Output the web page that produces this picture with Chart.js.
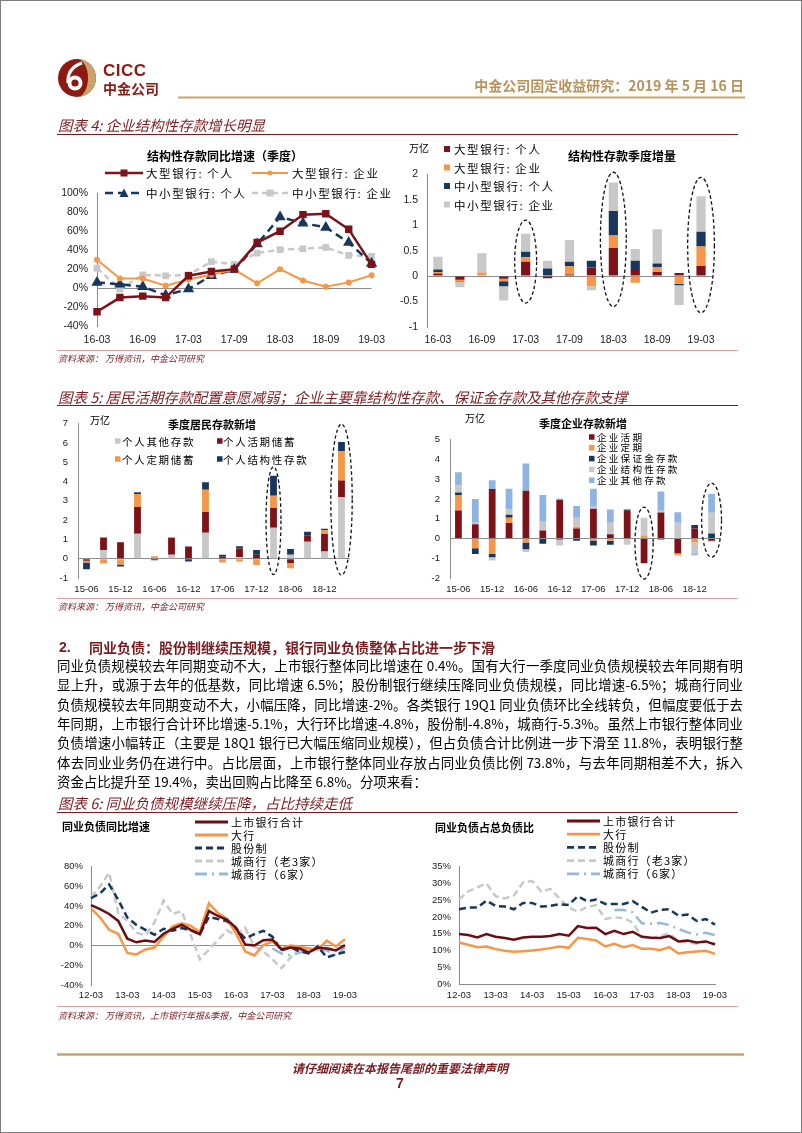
<!DOCTYPE html>
<html><head><meta charset="utf-8">
<script src="https://cdn.jsdelivr.net/npm/chart.js@4.4.0/dist/chart.umd.min.js"></script>
<style>
html,body{margin:0;padding:0;background:#fff;}
#page{position:relative;width:802px;height:1133px;overflow:hidden;font-family:"Noto Sans CJK SC","Liberation Sans",sans-serif;background:#fff;}
.t{position:absolute;white-space:nowrap;}
.pl{position:absolute;left:57px;width:686px;font-size:13.4px;line-height:18px;text-align:justify;text-align-last:justify;white-space:nowrap;color:#000;}
canvas{position:absolute;}
#deco{position:absolute;left:0;top:0;pointer-events:none;}
#frame{position:absolute;left:0;top:0;width:802px;height:1133px;box-sizing:border-box;border:1px solid #7f7f7f;pointer-events:none;}
</style></head>
<body>
<div id="page">
<svg id="deco" width="802" height="1133"></svg>
<div id="frame"></div>
</div>
<script>
// ---------------- DATA ----------------
// Figure 4 left: YoY growth of structured deposits (quarterly, %)
const c4Quarters = ['16-03','16-06','16-09','16-12','17-03','17-06','17-09','17-12','18-03','18-06','18-09','18-12','19-03'];
const c4TickLabels = ['16-03','16-09','17-03','17-09','18-03','18-09','19-03'];
const yoyLargePersonal = [-25,-10,-8.5,-10,13,17.5,20,48,60,77.5,78.5,62,25];
const yoyLargeCorp     = [30,10,10,2.5,9,14,19.5,5,20,8,1.5,6,13.5];
const yoySmallPersonal = [6,4,1.5,-7.5,-1,13,19.5,46.5,75,68.5,64,48,26];
const yoySmallCorp     = [21,-1,14,13,14,28,25,37,40.5,41.5,43,34.5,33.5];
// Figure 4 right: quarterly increment of structured deposits (trillion)
const incLargePersonal = [0.05,-0.07,0,-0.05,0.28,-0.04,0.03,0.17,0.55,0.12,0.08,0.06,0.2];
const incLargeCorp     = [0.03,-0.03,0.07,-0.05,0.09,0,0.17,-0.2,0.25,-0.13,0.1,-0.15,0.38];
const incSmallPersonal = [0.05,-0.01,0,-0.1,0.11,0.15,0.08,0.13,0.48,0.18,0.07,-0.03,0.29];
const incSmallCorp     = [0.25,-0.11,0.38,-0.28,0.35,0.15,0.43,-0.08,0.56,0.23,0.67,-0.39,0.7];
const incHighlights    = [[4,1.1,-0.53],[8,2.04,-0.6],[12,1.94,-0.72]];
// Figure 5: quarterly new deposits (trillion)
const c5Quarters = ['15-06','15-09','15-12','16-03','16-06','16-09','16-12','17-03','17-06','17-09','17-12','18-03','18-06','18-09','18-12','19-03'];
const c5TickLabels = ['15-06','15-12','16-06','16-12','17-06','17-12','18-06','18-12'];
const hhOther  = [0,0.45,0,1.3,0.03,0.2,0,1.35,0.03,0.08,0.03,1.6,0.2,0.88,0.38,3.2];
const hhDemand = [-0.1,0.65,0.85,1.38,-0.03,0.88,0.63,1.07,0.07,0.45,0.18,1.03,-0.22,0.34,0.9,0.85];
const hhTime   = [-0.1,-0.25,-0.3,0.67,0.1,0.04,0,1.15,-0.2,-0.15,-0.32,0.64,-0.28,0,0.2,1.52];
const hhStruct = [-0.35,0,-0.1,0.1,-0.05,0,-0.15,0.4,0.1,0.12,0.24,1.03,0.3,0.18,0.07,0.48];
const hhHighlights = [[11,4.77,-0.82],[15,6.98,-0.85]];
const coDemand = [1.42,0.72,2.5,0.78,2.42,0.4,1.95,0.5,1.5,0.22,1.4,-1.25,1.32,-0.75,0.5,-0.12];
const coTime   = [0.78,-0.5,-0.78,0.27,-0.2,0,0,0.1,-0.1,-0.12,0,0.15,0,-0.1,-0.2,-0.03];
const coMargin = [0.13,-0.28,-0.17,0.15,-0.35,-0.27,-0.05,-0.12,-0.25,-0.2,0.07,0,-0.05,0,0.18,0.25];
const coStruct = [0.37,0.08,-0.17,0.28,-0.13,0.45,-0.3,0.45,0.1,0.58,-0.32,0.9,0.08,0.8,-0.55,1.05];
const coOther  = [0.65,1.2,0.45,1.04,1.38,1.35,0.07,0.6,0.92,0.67,0,0,0.98,0.53,-0.1,0.95];
const coHighlights = [[11,1.59,-2.05],[15,2.8,-0.95]];
// Figure 6: interbank liabilities
const c6Quarters = ['12-03','12-06','12-09','12-12','13-03','13-06','13-09','13-12','14-03','14-06','14-09','14-12','15-03','15-06','15-09','15-12','16-03','16-06','16-09','16-12','17-03','17-06','17-09','17-12','18-03','18-06','18-09','18-12','19-03'];
const c6TickLabels = ['12-03','13-03','14-03','15-03','16-03','17-03','18-03','19-03'];
const gListed = [41,37,32,25,7,3.3,5,3.6,12,17,21,16,11.5,35,30,26,18,1,0,5.5,6,-4,-2,-3,-7,-2,-3,-5,0.4];
const gBig    = [37.7,28.5,16,12,-7.5,-9,-4,-2,9,19.6,22.6,20,13.8,43,33,27,12,-6,-10,0.5,4,-3,0,-1,-3,-4,5,-1,6.5];
const gJoint  = [48,53,62,46.5,28.5,21,16,11,17,15,17.7,15.4,11.5,29,27,24.6,17,7,11.5,15,9,-5,-1.6,-6,-8,-1,-12,-9,-6.5];
const gCity3  = [49,60,74,33,25,13,10.5,23.6,45.6,32,35,10.5,-14,-4,5.6,15.4,10.5,18,-1,-6,-14,-23,-12,-3,-3,0,-2,-4,0];
const gCity6  = [null,null,null,null,null,null,null,null,null,null,null,null,null,null,null,null,null,null,null,null,-3,-8,-10,-7,-5,-3,-5,-10,-2];
const sListed = [14.9,14.6,13.9,14.9,14.1,13.7,13.2,13.9,14.1,14.1,14.3,14.9,14.4,17.3,16.7,16.8,14.9,15.9,14.9,15.6,14.1,13.8,13.7,14.3,12.7,13,12.4,12.7,11.8];
const sBig    = [12.4,11.7,11,11.2,10.4,9.9,9.6,9.8,10,10.3,10.7,11.2,10.8,13.8,13.4,13,11.2,12,11,11.6,10.5,10.5,10.1,11,9.1,9.5,9.7,9.9,9.0];
const sJoint  = [22.3,22.8,22.8,24.9,23.3,23.1,22.3,24.2,24.2,23.1,23.3,23.8,23.6,26.2,24.7,25.2,23.9,23.9,23.9,24.7,23,21.3,22.1,22.3,20.4,20.7,18.8,19.4,17.7];
const sCity3  = [25.2,27.6,28.8,30,26.2,25.5,26.4,30.3,30.7,27.6,28.4,25.5,22.8,21.6,23,23.5,19.4,19.9,19.7,18.3,14.1,13.8,14.3,15.1,12.7,12.4,12,12.7,12];
const sCity6  = [null,null,null,null,null,null,null,null,null,null,null,null,null,null,null,null,null,22.1,22.1,21.4,18.1,18,18.2,17.6,16.4,15.4,14.8,15.3,14.6];

// ---------------- STYLE ----------------
const RED='#7d1218', ORANGE='#f79646', NAVY='#17375e', GRAY='#c8c8c8', LBLUE='#8db4e2', LINEBLUE='#95b8dc';
const CAP='#7a1b1f', GOLD='#c9a46a';
const page=document.getElementById('page');
const svg=document.getElementById('deco');
const NS='http://www.w3.org/2000/svg';
function sv(tag,a){const e=document.createElementNS(NS,tag);for(const k in a)e.setAttribute(k,a[k]);svg.appendChild(e);return e;}
function T(txt,x,y,o={}){
  const d=document.createElement('div');d.className='t';
  const size=o.size||12, lh=Math.round(size*1.4);
  d.style.fontSize=size+'px';d.style.lineHeight=lh+'px';
  d.style.top=(y-lh/2)+'px';d.style.left=x+'px';
  if(o.align==='center')d.style.transform='translateX(-50%)';
  if(o.align==='right')d.style.transform='translateX(-100%)';
  if(o.bold)d.style.fontWeight='bold';
  if(o.italic)d.style.fontStyle='italic';
  d.style.color=o.color||'#000';
  if(o.family)d.style.fontFamily=o.family;
  if(o.ls)d.style.letterSpacing=o.ls;
  d.textContent=txt;page.appendChild(d);return d;
}
function hl(x1,x2,y,c,w){sv('line',{x1:x1,y1:y,x2:x2,y2:y,stroke:c,'stroke-width':w});}
function sample(x1,x2,y,c,w,dash,marker){
  const a={x1:x1,y1:y,x2:x2,y2:y,stroke:c,'stroke-width':w};
  if(dash)a['stroke-dasharray']=dash;
  sv('line',a);
  const m=(x1+x2)/2;
  if(marker==='rect')sv('rect',{x:m-3.5,y:y-3.5,width:7,height:7,fill:c});
  if(marker==='circle')sv('circle',{cx:m,cy:y,r:2.5,fill:c});
  if(marker==='tri')sv('polygon',{points:`${m-4.5},${y+4} ${m+4.5},${y+4} ${m},${y-4.5}`,fill:c});
}
function sq(x,y,c,s){sv('rect',{x:x,y:y-s/2,width:s,height:s,fill:c});}

// ---------------- HEADER ----------------
const g=sv('g',{transform:'translate(58,59)'});
function gs(tag,a){const e=document.createElementNS(NS,tag);for(const k in a)e.setAttribute(k,a[k]);g.appendChild(e);}
gs('circle',{cx:19,cy:19,r:19,fill:'#8c1a13'});
gs('path',{d:'M19 0 A19 19 0 0 1 19 38 A11 19 0 0 0 19 0 Z',fill:'#c9a36a'});
gs('circle',{cx:17,cy:24,r:7.5,fill:'#fff'});
gs('circle',{cx:17,cy:24,r:3.6,fill:'#8c1a13'});
gs('path',{d:'M10 24 Q 9 9 24 4',stroke:'#fff','stroke-width':3.2,fill:'none'});
T('CICC',103,71,{size:17,bold:true,color:'#8c1a13',family:'"Liberation Sans",Arial,sans-serif',ls:'0.5px'});
T('中金公司',103,88,{size:14,bold:true,color:'#8c1a13'});
T('中金公司固定收益研究：2019 年 5 月 16 日',744,85,{size:14,bold:true,color:'#b8925a',align:'right'});
hl(178,745,97.5,GOLD,2.2);

// captions & rules
T('图表 4: 企业结构性存款增长明显',58,125,{size:14.5,italic:true,color:CAP});
hl(57,738,134.5,CAP,1);
hl(57,738,350.5,'#d7a0a0',1);
T('资料来源：  万得资讯，中金公司研究',58,358,{size:9,italic:true,color:CAP});

T('图表 5: 居民活期存款配置意愿减弱；企业主要靠结构性存款、保证金存款及其他存款支撑',58,397,{size:14.5,italic:true,color:CAP});
hl(57,738,405.5,CAP,1);
hl(57,738,598.5,'#d7a0a0',1);
T('资料来源：  万得资讯，中金公司研究',58,606,{size:9,italic:true,color:CAP});

T('2.',59,647,{size:14,bold:true,color:CAP,family:'"Liberation Sans",Arial,sans-serif'});
T('同业负债：股份制继续压规模，银行同业负债整体占比进一步下滑',89,647,{size:14,bold:true,color:CAP});
const paraLines=[
'同业负债规模较去年同期变动不大，上市银行整体同比增速在 0.4%。国有大行一季度同业负债规模较去年同期有明',
'显上升，或源于去年的低基数，同比增速 6.5%；股份制银行继续压降同业负债规模，同比增速-6.5%；城商行同业',
'负债规模较去年同期变动不大，小幅压降，同比增速-2%。各类银行 19Q1 同业负债环比全线转负，但幅度要低于去',
'年同期，上市银行合计环比增速-5.1%，大行环比增速-4.8%，股份制-4.8%，城商行-5.3%。虽然上市银行整体同业',
'负债增速小幅转正（主要是 18Q1 银行已大幅压缩同业规模），但占负债合计比例进一步下滑至 11.8%，表明银行整',
'体去同业业务仍在进行中。占比层面，上市银行整体同业存放占同业负债比例 73.8%，与去年同期相差不大，拆入',
'资金占比提升至 19.4%，卖出回购占比降至 6.8%。分项来看：'];
paraLines.forEach((l,i)=>{const d=document.createElement('div');d.className='pl';d.style.top=(656+i*19.3)+'px';d.textContent=l;if(i===paraLines.length-1){d.style.textAlignLast='left';}page.appendChild(d);});

T('图表 6: 同业负债规模继续压降，占比持续走低',58,803,{size:14.5,italic:true,color:CAP});
hl(57,738,812.5,CAP,1);
hl(57,738,1006.5,'#d7a0a0',1);
T('资料来源：  万得资讯，上市银行年报&季报，中金公司研究',58,1015,{size:9,italic:true,color:CAP});

// footer
hl(57,744,1054.5,GOLD,2.5);
T('请仔细阅读在本报告尾部的重要法律声明',400,1067,{size:12,bold:true,italic:true,color:CAP,align:'center'});
T('7',400,1083,{size:14,bold:true,color:CAP,align:'center',family:'"Liberation Sans",Arial,sans-serif'});

// ---------------- CHART HELPERS ----------------
const TICKFONT='"Liberation Sans",Arial,sans-serif';
const ellipsePlugin={id:'ellipses',afterDatasetsDraw(chart,args,opts){
  const items=opts.items||[];if(!items.length)return;
  const ctx=chart.ctx,xs=chart.scales.x,ys=chart.scales.y;
  const step=xs.getPixelForValue(1)-xs.getPixelForValue(0);
  items.forEach((e,i)=>{
    const cx=xs.getPixelForValue(e[0]);const y1=ys.getPixelForValue(e[1]),y2=ys.getPixelForValue(e[2]);
    ctx.save();ctx.beginPath();ctx.setLineDash([3.5,2.5]);ctx.lineWidth=1.3;ctx.strokeStyle='#111';
    ctx.ellipse(cx,(y1+y2)/2,opts.rx[i]*step,Math.abs(y2-y1)/2,0,0,Math.PI*2);ctx.stroke();ctx.restore();
  });
}};
Chart.register(ellipsePlugin);

function makeChart(geom,type,labels,datasets,cfg){
  const c=document.createElement('canvas');
  const left=geom.pl-geom.yW, top=geom.pt-geom.padTop;
  const w=geom.pr+geom.padRight-left, h=geom.pb+geom.xH-top;
  c.width=w;c.height=h;c.style.left=left+'px';c.style.top=top+'px';c.style.width=w+'px';c.style.height=h+'px';
  page.insertBefore(c,svg);
  const tickList=cfg.ticks;
  return new Chart(c.getContext('2d'),{
    type:type,
    data:{labels:labels,datasets:datasets},
    options:{
      responsive:false,animation:false,devicePixelRatio:1,
      layout:{padding:{top:geom.padTop,right:geom.padRight,left:0,bottom:0}},
      plugins:{legend:{display:false},tooltip:{enabled:false},ellipses:{items:cfg.ell||[],rx:cfg.rx||[]}},
      elements:{line:{tension:0}},
      scales:{
        x:{type:'category',offset:!!cfg.offset,stacked:!!cfg.stacked,
          grid:{display:false,drawTicks:false},
          border:{display:!!cfg.xBorder,color:'#8c8c8c'},
          ticks:{autoSkip:false,maxRotation:0,minRotation:0,padding:geom.xPad,color:'#1a1a1a',font:{family:TICKFONT,size:geom.fs},
            callback:function(v){const l=this.getLabelForValue(v);return tickList.includes(l)?l:'';}},
          afterFit:s=>{s.height=geom.xH;}},
        y:{min:cfg.min,max:cfg.max,stacked:!!cfg.stacked,
          grid:{color:ctx=>(ctx.tick&&ctx.tick.value===0)?'#8c8c8c':'rgba(0,0,0,0)',drawTicks:false,lineWidth:1},
          border:{display:true,color:'#8c8c8c'},
          ticks:{stepSize:cfg.step,padding:geom.yPad,color:'#1a1a1a',font:{family:TICKFONT,size:geom.fs},callback:cfg.fmt},
          afterFit:s=>{s.width=geom.yW;}}
      }
    }
  });
}
const pct=v=>v+'%';
const num=v=>String(v);

// ---------------- FIGURE 4 LEFT ----------------
makeChart({pl:97,pr:375,pt:188,pb:326,yW:40,padTop:10,padRight:18,xH:24,xPad:8,yPad:9,fs:10.5},'line',c4Quarters,[
  {data:yoyLargePersonal,borderColor:RED,backgroundColor:RED,borderWidth:2.5,pointStyle:'rect',pointRadius:3.5,pointBackgroundColor:RED,pointBorderColor:RED},
  {data:yoyLargeCorp,borderColor:ORANGE,backgroundColor:ORANGE,borderWidth:2,pointStyle:'circle',pointRadius:2,pointBackgroundColor:ORANGE,pointBorderColor:ORANGE},
  {data:yoySmallPersonal,borderColor:NAVY,backgroundColor:NAVY,borderWidth:2.5,borderDash:[8,5],pointStyle:'triangle',pointRadius:4,pointBackgroundColor:NAVY,pointBorderColor:NAVY},
  {data:yoySmallCorp,borderColor:GRAY,backgroundColor:GRAY,borderWidth:2.5,borderDash:[6,4],pointStyle:'rect',pointRadius:3,pointBackgroundColor:GRAY,pointBorderColor:GRAY}
],{ticks:c4TickLabels,min:-40,max:100,step:20,fmt:pct});
T('结构性存款同比增速（季度）',225,155,{size:12,bold:true,align:'center'});
const LG1={size:11.5,ls:'1.6px'};
sample(105,143,173,RED,2.5,null,'rect');T('大型银行: 个人',146,173,LG1);
sample(252,288,173,ORANGE,2,null,'circle');T('大型银行: 企业',292,173,LG1);
sample(105,143,193,NAVY,2.5,'8 5','tri');T('中小型银行: 个人',146,193,LG1);
sample(252,288,193,GRAY,2.5,'6 4','rect');T('中小型银行: 企业',292,193,LG1);

// ---------------- FIGURE 4 RIGHT ----------------
const barOpt={barPercentage:1,categoryPercentage:0.42,borderWidth:0};
makeChart({pl:427,pr:712,pt:169,pb:327,yW:30,padTop:10,padRight:18,xH:24,xPad:7,yPad:9,fs:10.5},'bar',c4Quarters,[
  Object.assign({data:incLargePersonal,backgroundColor:RED},barOpt),
  Object.assign({data:incLargeCorp,backgroundColor:ORANGE},barOpt),
  Object.assign({data:incSmallPersonal,backgroundColor:NAVY},barOpt),
  Object.assign({data:incSmallCorp,backgroundColor:GRAY},barOpt)
],{ticks:c4TickLabels,min:-1,max:2,step:0.5,fmt:num,offset:true,stacked:true,ell:incHighlights,rx:[0.5,0.59,0.61]});
T('万亿',409,148,{size:10});
T('结构性存款季度增量',622,155,{size:12,bold:true,align:'center'});
[['大型银行: 个人',RED],['大型银行: 企业',ORANGE],['中小型银行: 个人',NAVY],['中小型银行: 企业',GRAY]].forEach((it,i)=>{
  const y=149+i*18.5;sq(444,y,it[1],6);T(it[0],454,y,LG1);
});

// ---------------- FIGURE 5 LEFT ----------------
const bar5={barPercentage:1,categoryPercentage:0.4,borderWidth:0};
makeChart({pl:78,pr:350,pt:418,pb:578,yW:22,padTop:10,padRight:18,xH:22,xPad:6,yPad:10,fs:9.5},'bar',c5Quarters,[
  Object.assign({data:hhOther,backgroundColor:GRAY},bar5),
  Object.assign({data:hhDemand,backgroundColor:RED},bar5),
  Object.assign({data:hhTime,backgroundColor:ORANGE},bar5),
  Object.assign({data:hhStruct,backgroundColor:NAVY},bar5)
],{ticks:c5TickLabels,min:-1,max:7,step:1,fmt:num,offset:true,stacked:true,ell:hhHighlights,rx:[0.44,0.63]});
T('万亿',90,420,{size:10});
T('季度居民存款新增',212,424,{size:11,bold:true,align:'center'});
const LG3={size:10.5,ls:'1.7px'};
sq(115,441,GRAY,5.5);T('个人其他存款',122,441,LG3);
sq(217,441,RED,5.5);T('个人活期储蓄',223,441,LG3);
sq(115,459,ORANGE,5.5);T('个人定期储蓄',122,459,LG3);
sq(217,459,NAVY,5.5);T('个人结构性存款',223,459,LG3);

// ---------------- FIGURE 5 RIGHT ----------------
makeChart({pl:450,pr:720,pt:434,pb:578,yW:25,padTop:10,padRight:18,xH:22,xPad:6,yPad:10,fs:9.5},'bar',c5Quarters,[
  Object.assign({data:coDemand,backgroundColor:RED},bar5),
  Object.assign({data:coTime,backgroundColor:ORANGE},bar5),
  Object.assign({data:coMargin,backgroundColor:NAVY},bar5),
  Object.assign({data:coStruct,backgroundColor:GRAY},bar5),
  Object.assign({data:coOther,backgroundColor:LBLUE},bar5)
],{ticks:c5TickLabels,min:-2,max:5,step:1,fmt:num,offset:true,stacked:true,ell:coHighlights,rx:[0.54,0.59]});
T('万亿',465,418,{size:10});
T('季度企业存款新增',583,423,{size:11,bold:true,align:'center'});
[['企业活期',RED],['企业定期',ORANGE],['企业保证金存款',NAVY],['企业结构性存款',GRAY],['企业其他存款',LBLUE]].forEach((it,i)=>{
  const y=437+i*10.8;sq(589,y,it[1],5.5);T(it[0],597,y,{size:9.6,ls:'2.2px'});
});

// ---------------- FIGURE 6 LEFT ----------------
const ln={pointRadius:0,borderWidth:2.5,fill:false,spanGaps:false};
makeChart({pl:91,pr:345,pt:863,pb:985,yW:35,padTop:10,padRight:18,xH:22,xPad:5,yPad:8,fs:9.5},'line',c6Quarters,[
  Object.assign({data:gListed,borderColor:'#6a0e13',borderWidth:2.8},ln),
  Object.assign({data:gBig,borderColor:ORANGE},ln),
  Object.assign({data:gJoint,borderColor:NAVY,borderDash:[7,4]},ln),
  Object.assign({data:gCity3,borderColor:GRAY,borderDash:[7,4]},ln),
  Object.assign({data:gCity6,borderColor:LINEBLUE,borderDash:[12,5,2,5]},ln)
].map(d=>Object.assign({},ln,d)),{ticks:c6TickLabels,min:-40,max:80,step:20,fmt:pct});
T('同业负债同比增速',62,826,{size:11,bold:true});
const leg6=[['上市银行合计','#6a0e13',null],['大行',ORANGE,null],['股份制',NAVY,'7 4'],['城商行（老3家）',GRAY,'7 4'],['城商行（6家）',LINEBLUE,'12 5 2 5']];
const LG6={size:11,ls:'1.2px'};
leg6.forEach((it,i)=>{const y=822+i*13;sample(195,228,y,it[1],2.8,it[2],null);T(it[0],231,y,LG6);});

// ---------------- FIGURE 6 RIGHT ----------------
makeChart({pl:459,pr:715,pt:863,pb:984,yW:35,padTop:10,padRight:22,xH:22,xPad:6,yPad:8,fs:9.5},'line',c6Quarters,[
  Object.assign({data:sListed,borderColor:'#6a0e13',borderWidth:2.8},ln),
  Object.assign({data:sBig,borderColor:ORANGE},ln),
  Object.assign({data:sJoint,borderColor:NAVY,borderDash:[7,4]},ln),
  Object.assign({data:sCity3,borderColor:GRAY,borderDash:[7,4]},ln),
  Object.assign({data:sCity6,borderColor:LINEBLUE,borderDash:[12,5,2,5]},ln)
].map(d=>Object.assign({},ln,d)),{ticks:c6TickLabels,min:0,max:35,step:5,fmt:pct,xBorder:true});
T('同业负债占总负债比',435,827,{size:11,bold:true});
leg6.forEach((it,i)=>{const y=821+i*13.2;sample(567,600,y,it[1],2.8,it[2],null);T(it[0],603,y,LG6);});
</script>
</body></html>
